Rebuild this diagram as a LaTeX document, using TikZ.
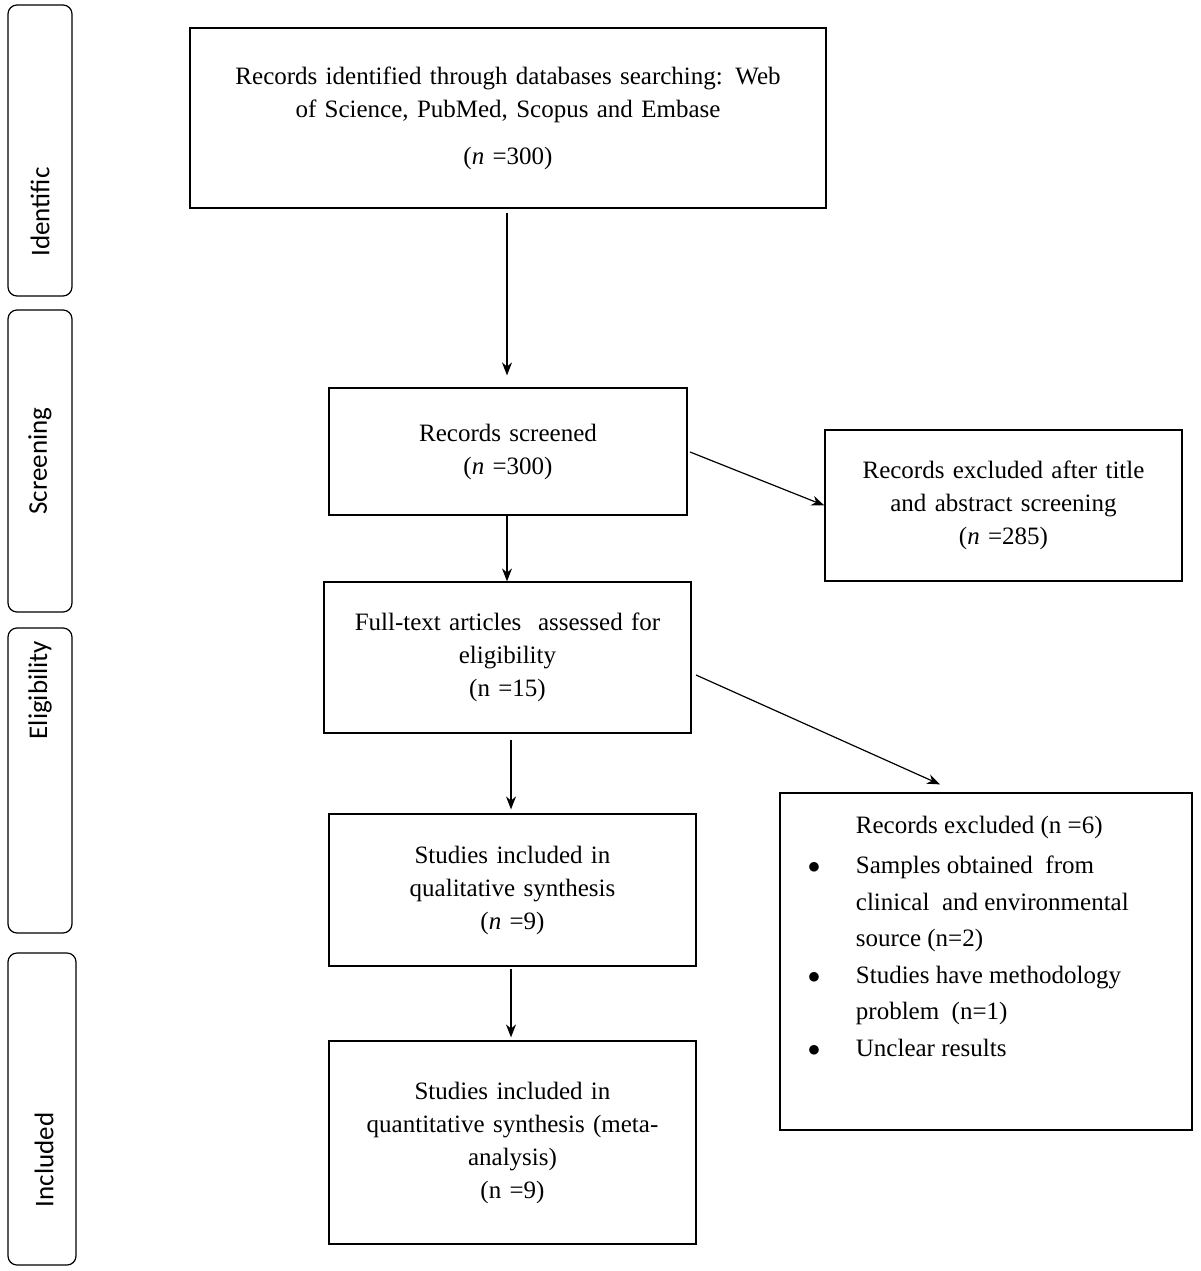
\documentclass[tikz,border=0pt]{standalone}
\usepackage{fontspec}
\setmainfont{Liberation Serif}
\newfontfamily\sidefont{Carlito}
\usetikzlibrary{arrows.meta}
\tikzset{every picture/.style={line width=1.2pt}}
\tikzset{
  flowbox/.style={draw, align=center, inner sep=2pt, font=\fontsize{25}{33}\selectfont},
  phase/.style={draw, rounded corners=9pt, inner sep=0pt},
  phasetext/.style={rotate=90, font=\sidefont\fontsize{27}{31}\selectfont},
  flowarrow/.style={-{Stealth[length=13pt,width=10pt]}}
}
\newcommand\itembullet{\makebox[52pt][l]{\hspace*{4pt}$\bullet$}}
\begin{document}
\begin{tikzpicture}[x=1pt,y=1pt,yscale=-1]
\useasboundingbox (0,0) rectangle (1200,1271);

% phase labels
\node[phase, minimum width=64pt, minimum height=291pt] (identific) at (40,150.5) {};
\node[phasetext] at (40,212) {Identific};
\node[phase, minimum width=64pt, minimum height=302pt] (screening) at (40,461) {};
\node[phasetext] at (screening) {Screening};
\node[phase, minimum width=64pt, minimum height=305pt] (eligibility) at (40,780.5) {};
\node[phasetext] at (40,690) {Eligibility};
\node[phase, minimum width=68pt, minimum height=312pt] (included) at (42,1109) {};
\node[phasetext] at (44,1160) {Included};

% boxes
\node[flowbox, minimum width=636pt, minimum height=180pt, text width=600pt] (records) at (508,118)
  {Records identified through databases searching: Web\\ of Science, PubMed, Scopus and Embase\\[14pt] (\textit{n} =300)};
\node[flowbox, minimum width=358pt, minimum height=127pt, text width=340pt] (screened) at (508,451.5)
  {Records screened\\ (\textit{n} =300)};
\node[flowbox, minimum width=357pt, minimum height=151pt, text width=340pt] (excluded) at (1003.5,505.5)
  {Records excluded after title\\ and abstract screening\\ (\textit{n} =285)};
\node[flowbox, minimum width=367pt, minimum height=151pt, text width=350pt] (fulltext) at (507.5,657.5)
  {Full-text articles~ assessed for\\ eligibility\\ (n =15)};
\node[flowbox, minimum width=367pt, minimum height=152pt, text width=350pt] (qualitative) at (512.5,890)
  {Studies included in\\ qualitative synthesis\\ (\textit{n} =9)};
\node[flowbox, minimum width=412pt, minimum height=337pt] (removed) at (986,961.5) {};
\node[font=\fontsize{25}{36.5}\selectfont, anchor=north west, align=left] (removedtext) at (800,812)
  {\hspace*{52pt}Records excluded (n =6)\\[4pt]
   \itembullet Samples obtained~ from\\
   \hspace*{52pt}clinical~ and environmental\\
   \hspace*{52pt}source (n=2)\\
   \itembullet Studies have methodology\\
   \hspace*{52pt}problem~ (n=1)\\
   \itembullet Unclear results};
\node[flowbox, minimum width=367pt, minimum height=203pt, text width=330pt] (quantitative) at (512.5,1142.5)
  {Studies included in\\ quantitative synthesis (meta-\\ analysis)\\ (n =9)};

% connectors
\draw[flowarrow] ([yshift=4pt]records.south -| 507,0) -- ([yshift=-12pt]screened.north -| 507,0);
\draw[flowarrow] (screened.south -| 507,0) -- (fulltext.north -| 507,0);
\draw[flowarrow] (690,452) -- (excluded.west);
\draw[flowarrow] (fulltext.south -| 511,0) ++(0,6) -- ([yshift=-4pt]qualitative.north -| 511,0);
\draw[flowarrow] (696,675) -- ([yshift=-8pt]removed.north -| 940,0);
\draw[flowarrow] ([yshift=2pt]qualitative.south -| 511,0) -- ([yshift=-3pt]quantitative.north -| 511,0);
\end{tikzpicture}
\end{document}
